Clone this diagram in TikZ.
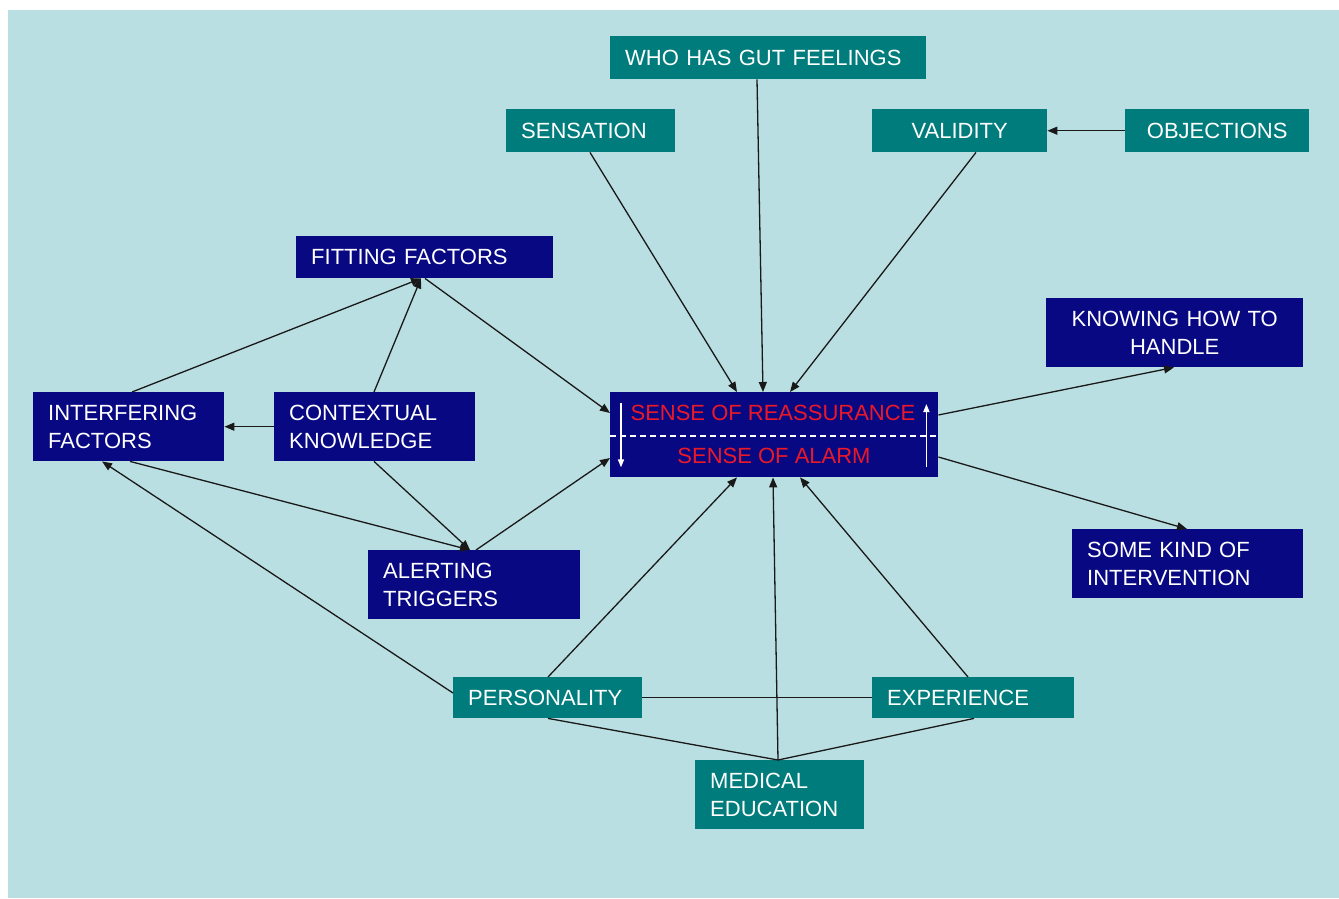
\documentclass[tikz,border=0pt]{standalone}
\usepackage{fontspec}
\setmainfont{Liberation Sans}
\usetikzlibrary{arrows.meta,calc}
\definecolor{bgc}{RGB}{186,223,226}
\definecolor{navyc}{RGB}{8,8,130}
\definecolor{tealc}{RGB}{0,124,124}
\definecolor{redtxt}{RGB}{235,25,40}
\definecolor{linec}{RGB}{25,25,25}
\begin{document}
\begin{tikzpicture}[x=1pt,y=-1pt,
  boxbase/.style={rectangle, anchor=north west, inner xsep=15pt, inner ysep=0pt, text=white,
    font=\fontsize{22}{28}\selectfont, align=left},
  nbox/.style={boxbase, fill=navyc},
  tbox/.style={boxbase, fill=tealc},
  conn/.style={draw=linec, line width=1.3pt, -{Triangle[length=10pt,width=8pt]}},
  linkline/.style={draw=linec, line width=1.3pt},
  wharrow/.style={draw=white, line width=1.5pt, -{Triangle[length=8pt,width=6pt]}},
  redlabel/.style={text=redtxt, font=\fontsize{22}{26}\selectfont, inner sep=0pt}]
\useasboundingbox (0,0) rectangle (1339,898);
\fill[bgc] (8,10) rectangle (1339,898);

% teal boxes
\node[tbox, text width=286pt, minimum height=43pt] (who) at (610,36) {WHO HAS GUT FEELINGS};
\node[tbox, text width=139pt, minimum height=43pt] (sens) at (506,109) {SENSATION};
\node[tbox, text width=145pt, minimum height=43pt, align=center] (valid) at (872,109) {VALIDITY};
\node[tbox, text width=154pt, minimum height=43pt, align=center] (obj) at (1125,109) {OBJECTIONS};
\node[tbox, text width=159pt, minimum height=41pt] (pers) at (453,677) {PERSONALITY};
\node[tbox, text width=172pt, minimum height=41pt] (exper) at (872,677) {EXPERIENCE};
\node[tbox, text width=139pt, minimum height=69pt] (med) at (695,760) {MEDICAL\\EDUCATION};

% navy boxes
\node[nbox, text width=227pt, minimum height=42pt] (fit) at (296,236) {FITTING FACTORS};
\node[nbox, text width=161pt, minimum height=69pt] (interf) at (33,392) {INTERFERING\\FACTORS};
\node[nbox, text width=171pt, minimum height=69pt] (ctx) at (274,392) {CONTEXTUAL\\KNOWLEDGE};
\node[nbox, text width=182pt, minimum height=69pt] (alert) at (368,550) {ALERTING\\TRIGGERS};
\node[nbox, text width=227pt, minimum height=69pt, align=center] (know) at (1046,298) {KNOWING HOW TO\\HANDLE};
\node[nbox, text width=201pt, minimum height=69pt] (some) at (1072,529) {SOME KIND OF\\INTERVENTION};

% central box
\node[rectangle, anchor=north west, fill=navyc, minimum width=328pt, minimum height=85pt, inner sep=0pt] (sense) at (610,392) {};
\draw[white, line width=1.5pt, dash pattern=on 6pt off 4pt] ([yshift=-44pt]sense.north west) -- ([yshift=-44pt]sense.north east);
\node[redlabel] (reass) at ($(sense.north west)+(163,21)$) {SENSE OF REASSURANCE};
\node[redlabel] (alarm) at ($(sense.north west)+(164,64)$) {SENSE OF ALARM};
\draw[wharrow] ([xshift=11pt,yshift=-11pt]sense.north west) -- ([xshift=11pt,yshift=10pt]sense.south west);
\draw[wharrow] ([xshift=-12pt,yshift=10pt]sense.south east) -- ([xshift=-12pt,yshift=-12pt]sense.north east);

% top inputs
\draw[conn] ([xshift=84pt]sens.south west) -- ([xshift=127pt]sense.north west);
\draw[conn] ([xshift=147pt]who.south west) -- ([xshift=153pt]sense.north west);
\draw[conn] ([xshift=104pt]valid.south west) -- ([xshift=180pt]sense.north west);
\draw[conn] (obj.west) -- (valid.east);

% left side
\draw[conn] ([xshift=99pt]interf.north west) -- ([xshift=125pt]fit.south west);
\draw[conn] ([xshift=100pt]ctx.north west) -- ([xshift=125pt]fit.south west);
\draw[conn] ([xshift=129pt]fit.south west) -- ([yshift=-21pt]sense.north west);
\draw[conn] (ctx.west) -- (interf.east);
\draw[conn] ([xshift=100pt]ctx.south west) -- ([xshift=102pt]alert.north west);
\draw[conn] ([xshift=97pt]interf.south west) -- ([xshift=102pt]alert.north west);
\draw[conn] ([yshift=-16pt]pers.north west) -- ([xshift=69pt]interf.south west);
\draw[conn] ([xshift=108pt]alert.north west) -- ([yshift=-66pt]sense.north west);

% bottom inputs
\draw[conn] ([xshift=95pt]pers.north west) -- ([xshift=127pt]sense.south west);
\draw[conn] ([xshift=83pt]med.north west) -- ([xshift=163pt]sense.south west);
\draw[conn] ([xshift=96pt]exper.north west) -- ([xshift=190pt]sense.south west);
\draw[linkline] (pers.east) -- (exper.west);
\draw[linkline] ([xshift=95pt]pers.south west) -- ([xshift=83pt]med.north west);
\draw[linkline] ([xshift=102pt]exper.south west) -- ([xshift=83pt]med.north west);

% outputs
\draw[conn] ([yshift=-23pt]sense.north east) -- ([xshift=128pt]know.south west);
\draw[conn] ([yshift=-65pt]sense.north east) -- ([xshift=115pt]some.north west);
\end{tikzpicture}
\end{document}
